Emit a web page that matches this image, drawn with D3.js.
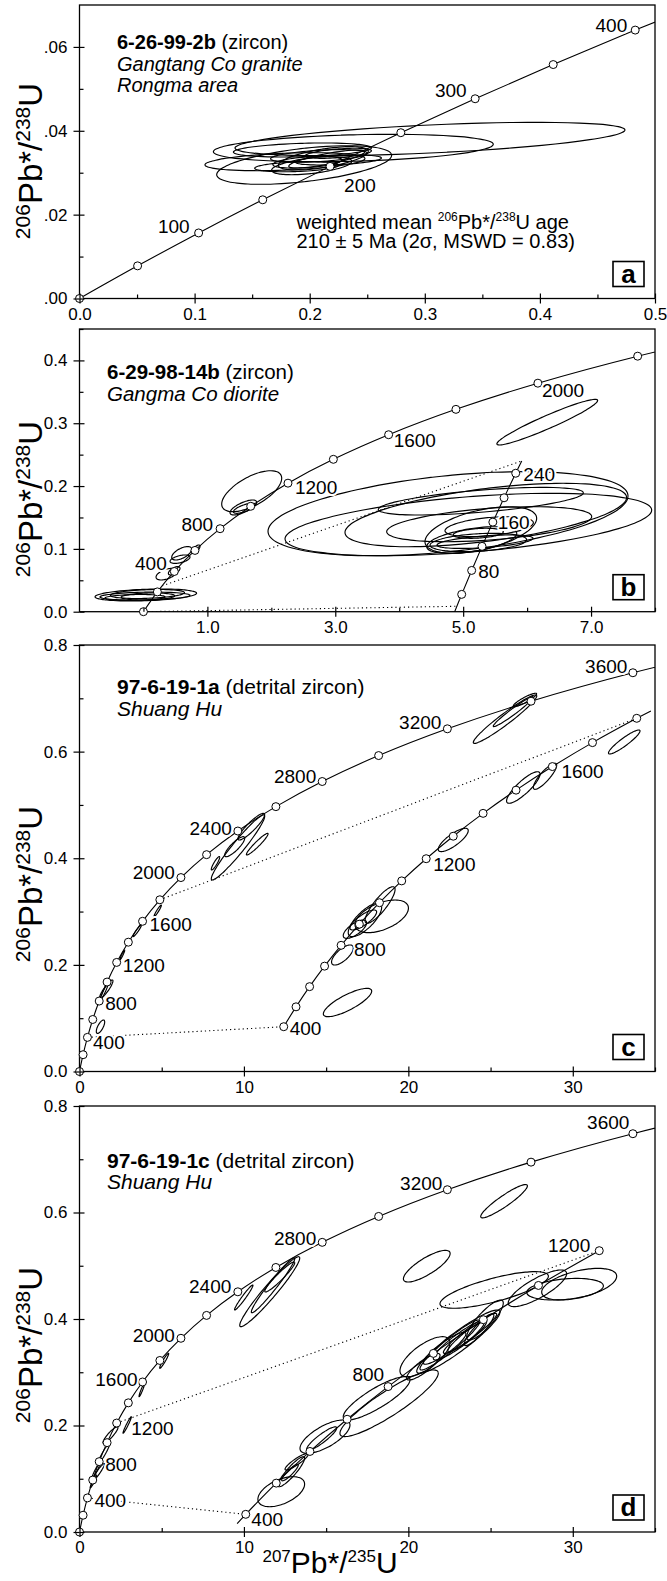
<!DOCTYPE html>
<html>
<head>
<meta charset="utf-8">
<script src="https://cdn.jsdelivr.net/npm/d3@7"></script>
<style>
  body { margin: 0; background: #fff; }
  svg { display: block; }
</style>
</head>
<body>
<div id="chart"></div>
<script>
// U-Pb decay constants (per Ma), used to put ages on the concordia
var LAMBDA_238 = 1.55125e-4;
var LAMBDA_235 = 9.8485e-4;

// ---------- panel a : 6-26-99-2b ----------
var aCurveAges = [0, 50, 100, 150, 200, 250, 300, 350, 400, 450];
var aMarkerAges = [0, 50, 100, 150, 200, 250, 300, 350, 400];
var aLabelAges = [100, 200, 300, 400];
// [207/235, 206/238, half-width 207/235, half-height 206/238, rho]
var aEllipses = [
    [0.3045, 0.03804, 0.1694, 0.00398, 0.54],
    [0.2379, 0.03589, 0.1216, 0.00327, 0.27],
    [0.1952, 0.03184, 0.0760, 0.00460, 0.50],
    [0.1785, 0.03263, 0.0695, 0.00215, 0.35],
    [0.1937, 0.03542, 0.0600, 0.00167, 0.30],
    [0.2118, 0.03344, 0.0391, 0.00279, 0.60],
    [0.2148, 0.03327, 0.0330, 0.00215, 0.80],
    [0.2017, 0.03167, 0.0348, 0.00215, 0.50],
    [0.2249, 0.03303, 0.0374, 0.00120, 0.40],
    [0.1887, 0.03143, 0.0365, 0.00120, 0.30],
    [0.2249, 0.03463, 0.0287, 0.00120, 0.50],
    [0.2080, 0.03400, 0.0420, 0.00150, 0.45],
    [0.1980, 0.03250, 0.0300, 0.00140, 0.40]
];
var aXTicks = [0, 0.1, 0.2, 0.3, 0.4, 0.5];
var aXMinor = [0.05, 0.15, 0.25, 0.35, 0.45];
var aYTicks = [0, 0.02, 0.04, 0.06];
var aYMinor = [0.01, 0.03, 0.05];

// ---------- panel b : 6-29-98-14b ----------
var bCurveAges = [0, 200, 400, 600, 800, 1000, 1200, 1400, 1600, 1800, 2000, 2200, 2400];
var bMarkerAges = [0, 200, 400, 600, 800, 1000, 1200, 1400, 1600, 1800, 2000, 2200];
var bLabelAges = [400, 800, 1200, 1600, 2000];
var bInsetCurveAges = [0, 40, 80, 120, 160, 200, 240, 260];
var bInsetMarkerAges = [40, 80, 120, 160, 200, 240];
var bInsetLabelAges = [80, 160, 240];
var bTieAges = [[0, 20], [260, 260]];
var bEllipses = [
    [0.037, 0.0266, 0.794, 0.00955, 0.3],
    [0.024, 0.0248, 0.704, 0.0064, 0.2],
    [0.063, 0.0282, 0.579, 0.0072, 0.3],
    [0.071, 0.0242, 0.420, 0.0056, 0.2],
    [-0.132, 0.0226, 0.470, 0.0048, 0.2],
    [0.358, 0.0597, 0.161, 0.0092, 0.5],
    [0.481, 0.0651, 0.091, 0.0067, 0.6],
    [0.598, 0.0930, 0.156, 0.0107, 0.6],
    [0.572, 0.0836, 0.156, 0.0067, 0.5],
    [0.819, 0.0995, 0.066, 0.0067, 0.7],
    [1.693, 0.1918, 0.469, 0.0326, 0.63],
    [1.562, 0.1659, 0.208, 0.0119, 0.7],
    [1.576, 0.1646, 0.169, 0.0080, 0.7],
    [6.315, 0.3017, 0.788, 0.0363, 0.95],
    [4.763, 0.1560, 2.815, 0.0669, 0.42],
    [5.081, 0.1388, 2.867, 0.0497, 0.46],
    [5.354, 0.1539, 2.202, 0.0505, 0.55],
    [5.276, 0.1759, 1.603, 0.0220, 0.6],
    [5.407, 0.1393, 1.603, 0.0279, 0.43],
    [5.276, 0.1300, 0.873, 0.0371, 0.5],
    [5.407, 0.1353, 0.691, 0.0159, 0.4],
    [5.134, 0.1141, 0.704, 0.0212, 0.5],
    [5.237, 0.1102, 0.755, 0.0146, 0.3],
    [5.237, 0.1248, 0.391, 0.0080, 0.3],
    [5.342, 0.1114, 0.751, 0.0107, 0.5]
];
var bXTicks = [1, 3, 5, 7];
var bXMinor = [0, 2, 4, 6, 8];
var bYTicks = [0, 0.1, 0.2, 0.3, 0.4];
var bYMinor = [0.05, 0.15, 0.25, 0.35, 0.45];

// ---------- panel c : 97-6-19-1a ----------
var cCurveAges = [0, 200, 400, 600, 800, 1000, 1200, 1400, 1600, 1800, 2000, 2200, 2400, 2600, 2800, 3000, 3200, 3400, 3600, 3800];
var cMarkerAges = [0, 200, 400, 600, 800, 1000, 1200, 1400, 1600, 1800, 2000, 2200, 2400, 2600, 2800, 3000, 3200, 3400, 3600];
var cLabelAges = [400, 800, 1200, 1600, 2000, 2400, 2800, 3200, 3600];
var cInsetCurveAges = [400, 500, 600, 700, 800, 900, 1000, 1100, 1200, 1300, 1400, 1500, 1600, 1700, 1800, 1830];
var cInsetMarkerAges = [400, 500, 600, 700, 800, 900, 1000, 1100, 1200, 1300, 1400, 1500, 1600, 1700, 1800];
var cInsetLabelAges = [400, 800, 1200, 1600];
var cTieAges = [[400, 400], [1800, 1800]];
var cEllipses = [
    [1.277, 0.0840, 0.255, 0.0126, 0.7],
    [1.630, 0.1544, 0.405, 0.0172, 0.9],
    [1.490, 0.1491, 0.243, 0.0150, 0.95],
    [2.600, 0.2185, 0.152, 0.0094, 0.95],
    [3.510, 0.2639, 0.255, 0.0109, 0.95],
    [4.756, 0.3014, 0.225, 0.0109, 0.95],
    [9.640, 0.4202, 1.624, 0.0610, 0.96],
    [10.45, 0.4592, 0.810, 0.0250, 0.9],
    [10.81, 0.4264, 0.660, 0.0203, 0.95],
    [9.440, 0.4217, 0.610, 0.0188, 0.85],
    [8.270, 0.3905, 0.255, 0.0126, 0.9],
    [25.88, 0.6609, 1.930, 0.0454, 0.96],
    [26.38, 0.6750, 1.216, 0.0281, 0.97],
    [27.09, 0.6969, 0.710, 0.0126, 0.9],
    [33.13, 0.6181, 0.960, 0.0225, 0.92],
    [28.31, 0.5537, 0.710, 0.0244, 0.85],
    [26.99, 0.5327, 1.016, 0.0296, 0.85],
    [22.73, 0.4343, 0.912, 0.0219, 0.8],
    [18.38, 0.2911, 1.624, 0.0306, 0.5],
    [18.28, 0.3123, 0.912, 0.0343, 0.85],
    [17.36, 0.2842, 1.016, 0.0313, 0.75],
    [16.75, 0.2669, 0.710, 0.0172, 0.7],
    [17.26, 0.2842, 0.810, 0.0188, 0.8],
    [15.99, 0.2185, 0.660, 0.0188, 0.7],
    [16.30, 0.1294, 1.470, 0.0266, 0.8]
];
var cXTicks = [0, 10, 20, 30];
var cXMinor = [5, 15, 25, 35];
var cYTicks = [0, 0.2, 0.4, 0.6, 0.8];
var cYMinor = [0.1, 0.3, 0.5, 0.7];

// ---------- panel d : 97-6-19-1c ----------
var dCurveAges = cCurveAges;
var dMarkerAges = cMarkerAges;
var dLabelAges = [400, 800, 1200, 1600, 2000, 2400, 2800, 3200, 3600];
var dInsetCurveAges = [370, 400, 500, 600, 700, 800, 900, 1000, 1100, 1200];
var dInsetMarkerAges = [400, 500, 600, 700, 800, 900, 1000, 1100, 1200];
var dInsetLabelAges = [400, 800, 1200];
var dTieAges = [[400, 400], [1200, 1200]];
var dEllipses = [
    [0.850, 0.0950, 0.200, 0.0120, 0.95],
    [1.000, 0.1150, 0.250, 0.0150, 0.95],
    [1.125, 0.1112, 0.405, 0.0175, 0.95],
    [1.480, 0.1474, 0.355, 0.0188, 0.95],
    [1.885, 0.1821, 0.456, 0.0156, 0.9],
    [2.900, 0.2010, 0.255, 0.0156, 0.97],
    [3.790, 0.2667, 0.170, 0.0126, 0.95],
    [5.150, 0.3215, 0.274, 0.0141, 0.95],
    [9.990, 0.4404, 0.560, 0.0235, 0.97],
    [11.57, 0.4513, 1.824, 0.0657, 0.96],
    [11.77, 0.4633, 1.320, 0.0516, 0.97],
    [12.18, 0.4789, 0.912, 0.0282, 0.95],
    [25.82, 0.6212, 1.420, 0.0313, 0.92],
    [21.12, 0.4992, 1.420, 0.0297, 0.8],
    [25.22, 0.4545, 3.296, 0.0344, 0.75],
    [27.85, 0.4576, 1.776, 0.0344, 0.8],
    [30.39, 0.4654, 2.280, 0.0297, 0.5],
    [29.53, 0.4560, 2.330, 0.0203, 0.3],
    [24.66, 0.3981, 1.113, 0.0376, 0.85],
    [21.01, 0.3292, 1.520, 0.0376, 0.7],
    [23.04, 0.3574, 2.530, 0.0595, 0.93],
    [22.53, 0.3512, 1.824, 0.0470, 0.95],
    [23.14, 0.3606, 1.620, 0.0376, 0.92],
    [23.75, 0.3731, 1.620, 0.0376, 0.95],
    [22.20, 0.3450, 1.300, 0.0300, 0.9],
    [23.50, 0.3660, 1.100, 0.0280, 0.93],
    [24.30, 0.3800, 0.900, 0.0300, 0.9],
    [20.91, 0.3104, 1.016, 0.0250, 0.85],
    [18.83, 0.2417, 2.990, 0.0626, 0.9],
    [18.07, 0.2511, 2.030, 0.0407, 0.85],
    [14.93, 0.1790, 1.520, 0.0313, 0.7],
    [14.73, 0.1755, 0.912, 0.0220, 0.9],
    [12.27, 0.0757, 1.420, 0.0282, 0.5],
    [12.88, 0.1132, 0.810, 0.0282, 0.9],
    [12.80, 0.1117, 0.505, 0.0156, 0.9],
    [13.21, 0.1320, 0.710, 0.0156, 0.9]
];
var dXTicks = cXTicks;
var dXMinor = cXMinor;
var dYTicks = cYTicks;
var dYMinor = cYMinor;

// ---------- layout ----------
var FONT = "'Liberation Sans', Arial, sans-serif";
var LEFT = 79.5, RIGHT = 655;
var fmt1 = d3.format(".1f");

var panels = [
    {
        id: "a", top: 5, bottom: 298.5, xDomain: [0, 0.5], yDomain: [0, 0.07],
        xTicks: aXTicks, xMinor: aXMinor, yTicks: aYTicks, yMinor: aYMinor,
        xFormat: fmt1, yFormat: function (d) { return d3.format(".2f")(d).slice(1); },
        curveAges: aCurveAges, markerAges: aMarkerAges, labelAges: aLabelAges, ellipses: aEllipses,
        labelPos: { 100: ["end", -9, -6.5], 200: ["start", 14, 19], 300: ["end", -8.5, -8], 400: ["end", -8, -5] },
        titleX: 117, titleY: 49, titleSize: 20, name: "6-26-99-2b", kind: " (zircon)",
        lines: ["Gangtang Co granite", "Rongma area"], yTitleCenter: 161
    },
    {
        id: "b", top: 329, bottom: 611.7, xDomain: [-1, 8], yDomain: [0, 0.45],
        xTicks: bXTicks, xMinor: bXMinor, yTicks: bYTicks, yMinor: bYMinor,
        xFormat: fmt1, yFormat: fmt1,
        curveAges: bCurveAges, markerAges: bMarkerAges, labelAges: bLabelAges, ellipses: bEllipses,
        labelPos: { 400: ["end", -7.6, -8], 800: ["end", -7, -4], 1200: ["start", 7, 4], 1600: ["start", 5, 6], 2000: ["start", 4, 7] },
        inset: {
            a0: 40, x0: 4.977, y0: 0.0276, a1: 240, x1: 5.822, y1: 0.2204,
            curveAges: bInsetCurveAges, markerAges: bInsetMarkerAges, labelAges: bInsetLabelAges,
            labelPos: { 80: ["start", 6.6, 1.3], 160: ["start", 5, 0.6], 240: ["start", 7.6, 1] }
        },
        ties: bTieAges,
        titleX: 107, titleY: 379, titleSize: 20.5, name: "6-29-98-14b", kind: " (zircon)",
        lines: ["Gangma Co diorite"], yTitleCenter: 499
    },
    {
        id: "c", top: 645, bottom: 1071.5, xDomain: [0, 35], yDomain: [0, 0.8],
        xTicks: cXTicks, xMinor: cXMinor, yTicks: cYTicks, yMinor: cYMinor,
        xFormat: d3.format("d"), yFormat: fmt1,
        curveAges: cCurveAges, markerAges: cMarkerAges, labelAges: cLabelAges, ellipses: cEllipses,
        labelPos: {
            400: ["start", 5.6, 5.3], 800: ["start", 6, 2], 1200: ["start", 6, 3], 1600: ["start", 7, 3],
            2000: ["end", -6, -5], 2400: ["end", -6, -3], 2800: ["end", -6, -5], 3200: ["end", -6, -6.5], 3600: ["end", -5.5, -6]
        },
        inset: {
            a0: 400, x0: 12.42, y0: 0.0840, a1: 1800, x1: 33.89, y1: 0.6625,
            curveAges: cInsetCurveAges, markerAges: cInsetMarkerAges, labelAges: cInsetLabelAges,
            labelPos: { 400: ["start", 6, 1.6], 800: ["start", 13, 4], 1200: ["start", 7, 6], 1600: ["start", 9, 5] }
        },
        ties: cTieAges,
        titleX: 117, titleY: 694, titleSize: 21, name: "97-6-19-1a", kind: " (detrital zircon)",
        lines: ["Shuang Hu"], yTitleCenter: 884
    },
    {
        id: "d", top: 1106, bottom: 1532, xDomain: [0, 35], yDomain: [0, 0.8],
        xTicks: dXTicks, xMinor: dXMinor, yTicks: dYTicks, yMinor: dYMinor,
        xFormat: d3.format("d"), yFormat: fmt1,
        curveAges: dCurveAges, markerAges: dMarkerAges, labelAges: dLabelAges, ellipses: dEllipses,
        labelPos: {
            400: ["start", 7, 2], 800: ["start", 6, 2.3], 1200: ["start", 14.6, 5.3], 1600: ["end", -5, -3],
            2000: ["end", -6, -3], 2400: ["end", -6.5, -5], 2800: ["end", -6, -4], 3200: ["end", -5, -6], 3600: ["end", -3.5, -11]
        },
        inset: {
            a0: 400, x0: 10.11, y0: 0.0332, a1: 1200, x1: 31.61, y1: 0.5283,
            curveAges: dInsetCurveAges, markerAges: dInsetMarkerAges, labelAges: dInsetLabelAges,
            labelPos: { 400: ["start", 5.6, 5], 800: ["end", -4, -12], 1200: ["end", -9, -5] }
        },
        ties: dTieAges,
        titleX: 107, titleY: 1167.5, titleSize: 21, name: "97-6-19-1c", kind: " (detrital zircon)",
        lines: ["Shuang Hu"], yTitleCenter: 1345
    }
];

var svg = d3.select("#chart").append("svg")
    .attr("width", 667)
    .attr("height", 1581)
    .style("font-family", FONT);

// age -> [207Pb/235U, 206Pb/238U]
function concordia(t) {
    return [Math.expm1(LAMBDA_235 * t), Math.expm1(LAMBDA_238 * t)];
}

// enlarged copy of a piece of the concordia, placed inside the panel
function insetMap(inset) {
    var p0 = concordia(inset.a0), p1 = concordia(inset.a1);
    var ix = d3.scaleLinear().domain([p0[0], p1[0]]).range([inset.x0, inset.x1]);
    var iy = d3.scaleLinear().domain([p0[1], p1[1]]).range([inset.y0, inset.y1]);
    return function (t) {
        var p = concordia(t);
        return [ix(p[0]), iy(p[1])];
    };
}

function ellipsePath(e, x, y) {
    var k = Math.sqrt(1 - e[4] * e[4]);
    var pts = d3.range(0, 360, 5).map(function (deg) {
        var th = deg * Math.PI / 180;
        return [x(e[0] + e[2] * Math.cos(th)),
                y(e[1] + e[3] * (e[4] * Math.cos(th) + k * Math.sin(th)))];
    });
    return d3.line().curve(d3.curveCardinalClosed)(pts);
}

// write "206Pb*/238U" style text with superscripts
function ratioText(sel, a, b, big, small, rise) {
    sel.append("tspan").attr("font-size", small).attr("dy", -rise).text(a);
    sel.append("tspan").attr("font-size", big).attr("dy", rise).text("Pb*/");
    sel.append("tspan").attr("font-size", small).attr("dy", -rise).text(b);
    sel.append("tspan").attr("font-size", big).attr("dy", rise).text("U");
}

function drawPanel(p) {
    var x = d3.scaleLinear().domain(p.xDomain).range([LEFT, RIGHT]);
    var y = d3.scaleLinear().domain(p.yDomain).range([p.bottom, p.top]);
    var g = svg.append("g").attr("class", "panel-" + p.id);

    svg.append("clipPath").attr("id", "clip-" + p.id)
        .append("rect")
        .attr("x", LEFT).attr("y", p.top)
        .attr("width", RIGHT - LEFT).attr("height", p.bottom - p.top);

    // frame
    g.append("rect")
        .attr("x", LEFT).attr("y", p.top)
        .attr("width", RIGHT - LEFT).attr("height", p.bottom - p.top)
        .attr("fill", "none").attr("stroke", "#000").attr("stroke-width", 1.3);

    var plot = g.append("g").attr("clip-path", "url(#clip-" + p.id + ")");

    // error ellipses
    plot.selectAll(".ellipse")
        .data(p.ellipses)
        .enter().append("path")
        .attr("class", "ellipse")
        .attr("d", function (e) { return ellipsePath(e, x, y); })
        .attr("fill", "none")
        .attr("stroke", "#000")
        .attr("stroke-width", 1.15);

    var curveLine = d3.line()
        .x(function (d) { return x(d[0]); })
        .y(function (d) { return y(d[1]); })
        .curve(d3.curveCatmullRom.alpha(0.5));
    var straight = d3.line()
        .x(function (d) { return x(d[0]); })
        .y(function (d) { return y(d[1]); });

    var inset = p.inset ? insetMap(p.inset) : null;

    // dotted tie lines between concordia and its enlarged part
    if (inset) {
        plot.selectAll(".tie")
            .data(p.ties)
            .enter().append("path")
            .attr("class", "tie")
            .attr("d", function (t) { return straight([concordia(t[0]), inset(t[1])]); })
            .attr("fill", "none")
            .attr("stroke", "#000")
            .attr("stroke-width", 1.1)
            .attr("stroke-dasharray", "1.2,3");
    }

    // concordia curves
    plot.append("path")
        .attr("d", curveLine(p.curveAges.map(concordia)))
        .attr("fill", "none").attr("stroke", "#000").attr("stroke-width", 1.1);
    if (inset) {
        plot.append("path")
            .attr("d", curveLine(p.inset.curveAges.map(inset)))
            .attr("fill", "none").attr("stroke", "#000").attr("stroke-width", 1.1);
    }

    // age markers
    var marks = p.markerAges.map(concordia);
    if (inset) marks = marks.concat(p.inset.markerAges.map(inset));
    g.selectAll(".marker")
        .data(marks)
        .enter().append("circle")
        .attr("class", "marker")
        .attr("cx", function (d) { return x(d[0]); })
        .attr("cy", function (d) { return y(d[1]); })
        .attr("r", 4)
        .attr("fill", "#fff")
        .attr("stroke", "#000")
        .attr("stroke-width", 1);

    // age labels
    var labels = p.labelAges.map(function (a) {
        return { age: a, pt: concordia(a), pos: p.labelPos[a] };
    });
    if (inset) {
        labels = labels.concat(p.inset.labelAges.map(function (a) {
            return { age: a, pt: inset(a), pos: p.inset.labelPos[a] };
        }));
    }
    g.selectAll(".age-label")
        .data(labels)
        .enter().append("text")
        .attr("class", "age-label")
        .attr("x", function (d) { return x(d.pt[0]) + d.pos[1]; })
        .attr("y", function (d) { return y(d.pt[1]) + d.pos[2]; })
        .attr("dy", "0.35em")
        .attr("text-anchor", function (d) { return d.pos[0]; })
        .attr("font-size", 19)
        .attr("stroke", "#fff")
        .attr("stroke-width", 4)
        .attr("stroke-linejoin", "round")
        .attr("paint-order", "stroke")
        .text(function (d) { return d.age; });

    // axes: major ticks cross the frame, minor ticks point inward
    var xAxisG = g.append("g").attr("transform", "translate(0," + p.bottom + ")");
    xAxisG.append("g")
        .call(d3.axisBottom(x).tickValues(p.xTicks).tickSize(5).tickPadding(4).tickFormat(p.xFormat))
        .attr("font-size", 17).attr("font-family", FONT)
        .call(function (s) { s.select(".domain").remove(); });
    xAxisG.append("g")
        .call(d3.axisBottom(x).tickValues(p.xTicks).tickSize(-5).tickFormat(""))
        .call(function (s) { s.select(".domain").remove(); });
    xAxisG.append("g")
        .call(d3.axisBottom(x).tickValues(p.xMinor).tickSize(-4).tickFormat(""))
        .call(function (s) { s.select(".domain").remove(); });

    var yAxisG = g.append("g").attr("transform", "translate(" + LEFT + ",0)");
    yAxisG.append("g")
        .call(d3.axisLeft(y).tickValues(p.yTicks).tickSize(6).tickPadding(6).tickFormat(p.yFormat))
        .attr("font-size", 17).attr("font-family", FONT)
        .call(function (s) { s.select(".domain").remove(); });
    yAxisG.append("g")
        .call(d3.axisLeft(y).tickValues(p.yTicks).tickSize(-5).tickFormat(""))
        .call(function (s) { s.select(".domain").remove(); });
    yAxisG.append("g")
        .call(d3.axisLeft(y).tickValues(p.yMinor).tickSize(-4).tickFormat(""))
        .call(function (s) { s.select(".domain").remove(); });
    g.selectAll(".tick line").attr("stroke-width", 1.2);

    // sample name and description
    var title = g.append("text")
        .attr("x", p.titleX).attr("y", p.titleY)
        .attr("font-size", p.titleSize);
    title.append("tspan").attr("font-weight", "bold").text(p.name);
    title.append("tspan").text(p.kind);
    p.lines.forEach(function (txt, i) {
        g.append("text")
            .attr("x", p.titleX).attr("y", p.titleY + 21.5 * (i + 1))
            .attr("font-size", p.titleSize)
            .attr("font-style", "italic")
            .text(txt);
    });

    // panel letter
    g.append("rect")
        .attr("x", RIGHT - 42).attr("y", p.bottom - 37)
        .attr("width", 31).attr("height", 25)
        .attr("fill", "#fff").attr("stroke", "#000").attr("stroke-width", 1.6);
    g.append("text")
        .attr("x", RIGHT - 26.5).attr("y", p.bottom - 16)
        .attr("text-anchor", "middle")
        .attr("font-size", 26).attr("font-weight", "bold")
        .text(p.id);

    // y axis title
    var yt = g.append("text")
        .attr("transform", "translate(42," + p.yTitleCenter + ") rotate(-90)")
        .attr("text-anchor", "middle");
    ratioText(yt, "206", "238", 33, 21, 12);
}

panels.forEach(drawPanel);

// weighted mean note in panel a
var note = svg.append("g").attr("font-size", 20);
var n1 = note.append("text").attr("x", 296.5).attr("y", 229);
n1.append("tspan").text("weighted mean ");
n1.append("tspan").attr("font-size", 12).attr("dy", -8).text("206");
n1.append("tspan").attr("dy", 8).text("Pb*/");
n1.append("tspan").attr("font-size", 12).attr("dy", -8).text("238");
n1.append("tspan").attr("dy", 8).text("U age");
note.append("text").attr("x", 296.5).attr("y", 248)
    .text("210 \u00b1 5 Ma (2\u03c3, MSWD = 0.83)");

// x axis title, squeezed between the "10" and "20" tick labels
var xt = svg.append("text")
    .attr("x", 330).attr("y", 1573)
    .attr("text-anchor", "middle")
    .style("font-family", FONT);
ratioText(xt, "207", "235", 30, 17, 11);
</script>
</body>
</html>
